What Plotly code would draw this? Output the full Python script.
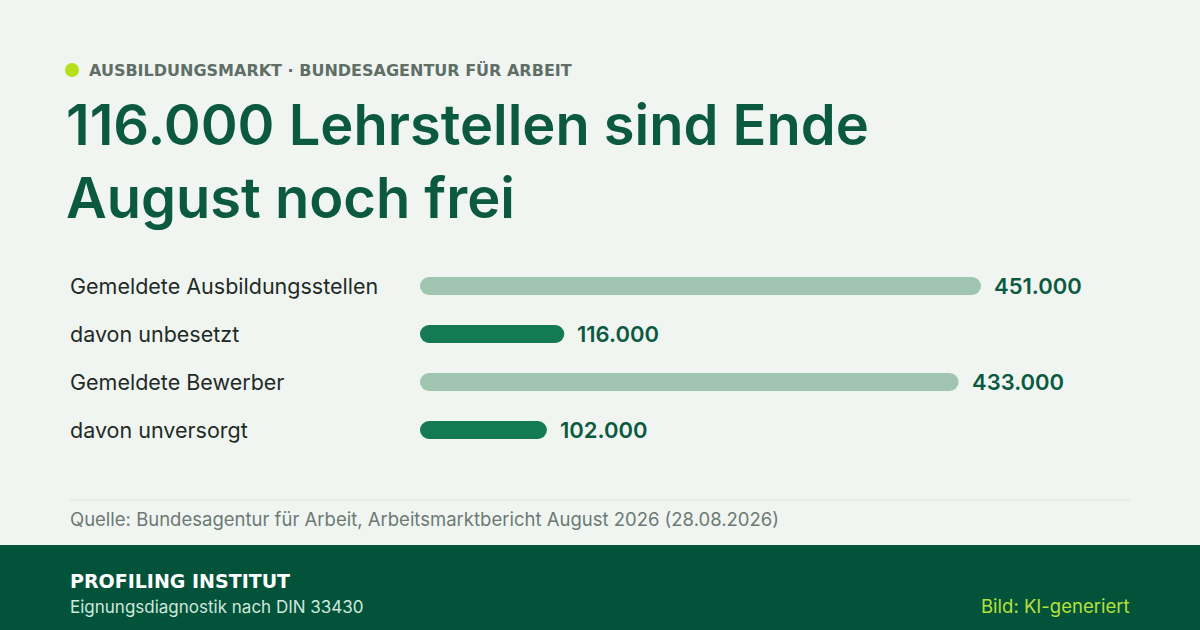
import plotly.graph_objects as go

categories = ["Gemeldete Ausbildungsstellen", "davon unbesetzt", "Gemeldete Bewerber", "davon unversorgt"]
values_k = [451, 116, 433, 102]
value_labels = ["451.000", "116.000", "433.000", "102.000"]
bar_kinds = ["total", "sub", "total", "sub"]

BG = "#f1f5f2"
DARK = "#0b5a3f"
COL = {"total": "#9fc5b1", "sub": "#137a55"}
colors = [COL[k] for k in bar_kinds]

W, H = 1200, 630
x0_px, px_per_k = 420, 561 / 451
xmax = 500
dom_end = (x0_px + xmax * px_per_k) / W
row_top, row_h = 262, 48
y_top = 1 - row_top / H
y_bot = 1 - (row_top + row_h * len(categories)) / H

fig = go.Figure()
# each bar drawn as two overlapping halves so both ends get rounded caps
mid_hi = [v * 0.6 for v in values_k]
mid_lo = [v * 0.4 for v in values_k]
fig.add_trace(go.Bar(y=categories, x=[v - m for v, m in zip(values_k, mid_lo)], base=mid_lo, orientation="h",
                     marker=dict(color=colors, cornerradius=9, line=dict(width=0)),
                     width=0.375, hoverinfo="skip", showlegend=False))
fig.add_trace(go.Bar(y=categories, x=[-m for m in mid_hi], base=mid_hi, orientation="h",
                     marker=dict(color=colors, cornerradius=9, line=dict(width=0)),
                     width=0.375, hoverinfo="skip", showlegend=False))

ann = []
for c, v, lab in zip(categories, values_k, value_labels):
    ann.append(dict(x=v, y=c, xref="x", yref="y", text=lab, showarrow=False, xanchor="left", xshift=11,
                    font=dict(family="Inter", size=22, color=DARK, weight=600)))
    ann.append(dict(x=68 / W, y=c, xref="paper", yref="y", text=c, showarrow=False, xanchor="left",
                    font=dict(family="Inter", size=21.5, color="#1e2b25")))

def ptext(x, y, text, size, color, weight=400, family="Inter", xanchor="left"):
    ann.append(dict(x=x / W, y=1 - y / H, xref="paper", yref="paper", text=text, showarrow=False,
                    xanchor=xanchor, yanchor="middle", align="left",
                    font=dict(family=family, size=size, color=color, weight=weight)))

ptext(87, 70, "AUSBILDUNGSMARKT · BUNDESAGENTUR FÜR ARBEIT", 16, "#5f6f66", 700, "DejaVu Sans")
ptext(64, 161, "116.000 Lehrstellen sind Ende<br>August noch frei", 56, DARK, 600)
ptext(68, 519, "Quelle: Bundesagentur für Arbeit, Arbeitsmarktbericht August 2026 (28.08.2026)", 18.5, "#6b7a72")
ptext(68, 581, "PROFILING INSTITUT", 19, "#ffffff", 700, "DejaVu Sans")
ptext(68, 607, "Eignungsdiagnostik nach DIN 33430", 17, "#cfe8dc")
ptext(1132, 606, "Bild: KI-generiert", 18.5, "#b8e03a", xanchor="right")

shapes = [
    dict(type="rect", xref="paper", yref="paper", x0=0, x1=1, y0=0, y1=1 - 545 / H, fillcolor="#03533b", line=dict(width=0), layer="below"),
    dict(type="line", xref="paper", yref="paper", x0=70 / W, x1=1130 / W, y0=1 - 500 / H, y1=1 - 500 / H, line=dict(color="#dde3df", width=1)),
    dict(type="circle", xref="paper", yref="paper", x0=65 / W, x1=79 / W, y0=1 - 77 / H, y1=1 - 63 / H, fillcolor="#b5e01a", line=dict(width=0)),
]

fig.update_layout(
    width=W, height=H, margin=dict(l=0, r=0, t=0, b=0),
    paper_bgcolor=BG, plot_bgcolor="rgba(0,0,0,0)", barmode="overlay",
    xaxis=dict(domain=[x0_px / W, dom_end], range=[0, xmax], visible=False, fixedrange=True),
    yaxis=dict(domain=[y_bot, y_top], range=[len(categories) - 0.5, -0.5], visible=False, fixedrange=True),
    annotations=ann, shapes=shapes,
)
fig.write_html("out.html", config={"displayModeBar": False},
               post_script="document.body.style.margin='0';document.body.style.background='" + BG + "';")
